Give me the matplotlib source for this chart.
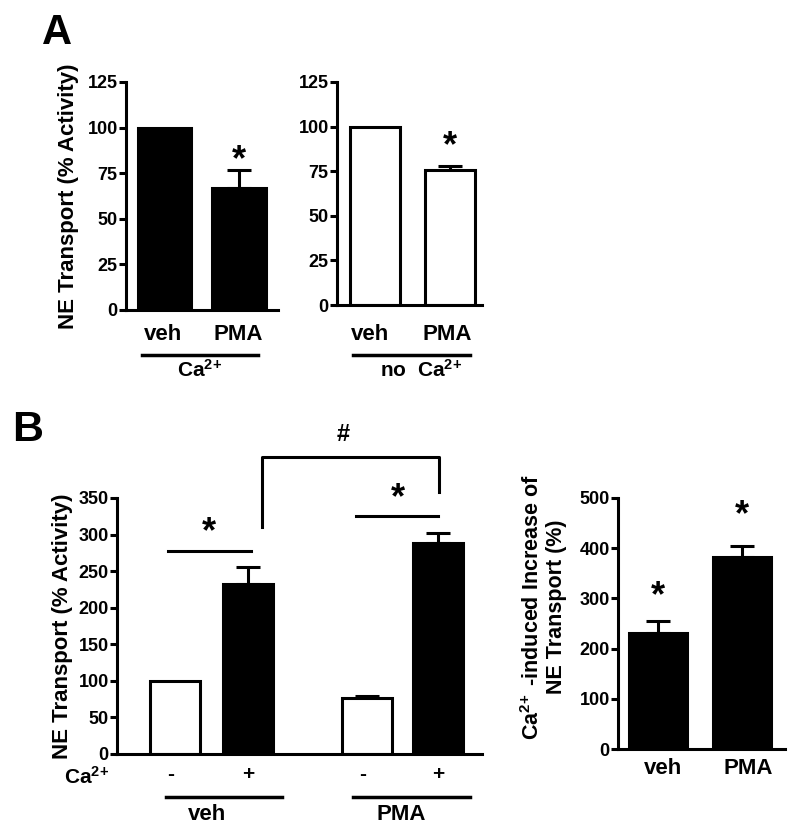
import matplotlib
matplotlib.use("Agg")
import matplotlib.pyplot as plt
from matplotlib import transforms
from matplotlib.lines import Line2D

plt.rcParams['font.family'] = ['Liberation Sans', 'DejaVu Sans']
plt.rcParams['font.weight'] = 'bold'
plt.rcParams['mathtext.fontset'] = 'custom'
plt.rcParams['mathtext.rm'] = 'Liberation Sans:bold'
plt.rcParams['mathtext.it'] = 'Liberation Sans:bold'
plt.rcParams['mathtext.bf'] = 'Liberation Sans:bold'
plt.rcParams['mathtext.default'] = 'rm'

# ---- data ----
a_groups = ['veh', 'PMA']
a_ca_mean = [100, 67]
a_ca_sem = [0, 9.5]
a_noca_mean = [100, 75.5]
a_noca_sem = [0, 2.5]

b_ca_signs = ['-', '+', '-', '+']
b_mean = [100, 232, 76.5, 288]
b_sem = [0, 23, 2.5, 14]
b_fill = ['white', 'black', 'white', 'black']
b_groups = ['veh', 'PMA']

c_groups = ['veh', 'PMA']
c_mean = [231, 383]
c_sem = [24, 21]

CA = 'Ca$^{2\\!+}$'
LW = 2.2
DPI = 100


def style_axes(ax, ymax, step):
    for s in ['top', 'right']:
        ax.spines[s].set_visible(False)
    for s in ['left', 'bottom']:
        ax.spines[s].set_linewidth(LW)
    ax.set_ylim(0, ymax)
    ax.set_yticks(range(0, ymax + 1, step))
    ax.tick_params(axis='y', direction='out', length=5, width=LW, labelsize=13, pad=1)
    ax.tick_params(axis='x', length=0, labelbottom=False)
    for lab in ax.get_yticklabels():
        lab.set_fontweight('bold')


def below(ax, px):
    # x in data, y = axis bottom shifted down by px pixels
    return transforms.offset_copy(ax.get_xaxis_transform(), fig=ax.figure, y=-px, units='dots')


def label_below(ax, x, px, text, size=16):
    ax.text(x, 0, text, transform=below(ax, px), ha='center', va='center',
            fontsize=size, fontweight='bold', clip_on=False)


def line_below(ax, x0, x1, px):
    ax.add_line(Line2D([x0, x1], [0, 0], transform=below(ax, px), color='black',
                       lw=LW + 0.3, clip_on=False))


def bars(ax, x, mean, sem, colors, width):
    ax.bar(x, mean, width=width, color=colors, edgecolor='black', linewidth=LW, zorder=2)
    for xi, m, e in zip(x, mean, sem):
        if e > 0:
            ax.errorbar(xi, m, yerr=[[0], [e]], fmt='none', ecolor='black',
                        elinewidth=LW, capsize=8.5, capthick=LW, zorder=1)


def star(ax, x, y, size=26):
    ax.text(x, y, '*', ha='center', va='center', fontsize=size, fontweight='bold', clip_on=False)


fig = plt.figure(figsize=(8, 8.31), dpi=DPI)
H = 831.0
W = 800.0


def add_ax(x0, x1, ytop, ybot):
    return fig.add_axes([x0 / W, 1 - ybot / H, (x1 - x0) / W, (ybot - ytop) / H])


# ---- Panel A left ----
ax1 = add_ax(126, 278, 82, 310)
pos = [0.51, 1.51]
bars(ax1, pos, a_ca_mean, a_ca_sem, ['black', 'black'], 0.71)
ax1.set_xlim(0, 2.03)
style_axes(ax1, 125, 25)
star(ax1, pos[1], 82)
ax1.set_ylabel('NE Transport (% Activity)', fontsize=16, fontweight='bold', labelpad=6)
label_below(ax1, 0.5, 25, a_groups[0])
label_below(ax1, 1.5, 25, a_groups[1])
line_below(ax1, 0.21, 1.76, 45)
label_below(ax1, 0.98, 60, CA, size=15)

# ---- Panel A right ----
ax2 = add_ax(337, 482, 82, 305)
pos = [0.51, 1.5]
bars(ax2, pos, a_noca_mean, a_noca_sem, ['white', 'white'], 0.67)
ax2.set_xlim(0, 1.93)
style_axes(ax2, 125, 25)
star(ax2, pos[1], 89)
label_below(ax2, 0.44, 30, a_groups[0])
label_below(ax2, 1.47, 30, a_groups[1])
line_below(ax2, 0.21, 1.77, 50)
label_below(ax2, 1.12, 65, 'no  ' + CA, size=15)

# ---- Panel B left ----
ax3 = add_ax(117, 482, 498, 754)
posb = [0.8, 1.8, 3.42, 4.4]
bars(ax3, posb, b_mean, b_sem, b_fill, 0.685)
ax3.set_xlim(0, 5)
style_axes(ax3, 350, 50)
ax3.set_ylabel('NE Transport (% Activity)', fontsize=16, fontweight='bold', labelpad=4)
# significance bars
ax3.plot([0.7, 1.83], [278, 278], color='black', lw=LW, clip_on=False)
star(ax3, 1.26, 302)
ax3.plot([3.28, 4.4], [325, 325], color='black', lw=LW, clip_on=False)
star(ax3, 3.85, 349)
ax3.plot([1.99, 1.99, 4.41, 4.41], [310, 406, 406, 358], color='black', lw=LW, clip_on=False)
ax3.text(3.1, 437, '#', ha='center', va='center', fontsize=17, fontweight='bold', clip_on=False)
# Ca row
ax3.text(-0.42, 0, CA, transform=below(ax3, 23), ha='center', va='center',
         fontsize=15, fontweight='bold', clip_on=False)
for xp, sg in zip(posb, b_ca_signs):
    label_below(ax3, xp - 0.06 if sg == '-' else xp, 21, sg, size=15)
line_below(ax3, 0.67, 2.26, 43)
line_below(ax3, 3.23, 4.84, 43)
label_below(ax3, 1.23, 60, b_groups[0])
label_below(ax3, 3.9, 60, b_groups[1])

# ---- Panel B right ----
ax4 = add_ax(618, 785, 498, 749)
pos = [0.48, 1.48]
bars(ax4, pos, c_mean, c_sem, ['black', 'black'], 0.69)
ax4.set_xlim(0, 1.99)
style_axes(ax4, 500, 100)
star(ax4, pos[0], 303)
star(ax4, pos[1], 464)
label_below(ax4, 0.54, 19, c_groups[0])
label_below(ax4, 1.55, 19, c_groups[1])
fig.text(544 / W, 1 - 607 / H, CA + ' -induced Increase of\nNE Transport (%)', rotation=90,
         ha='center', va='center', multialignment='center', fontsize=15.5, fontweight='bold',
         linespacing=1.1)

# panel letters
fig.text(57 / W, 1 - 33 / H, 'A', fontsize=30, fontweight='bold', ha='center', va='center')
fig.text(28 / W, 1 - 430 / H, 'B', fontsize=31, fontweight='bold', ha='center', va='center')

fig.savefig('out.png', dpi=DPI)
